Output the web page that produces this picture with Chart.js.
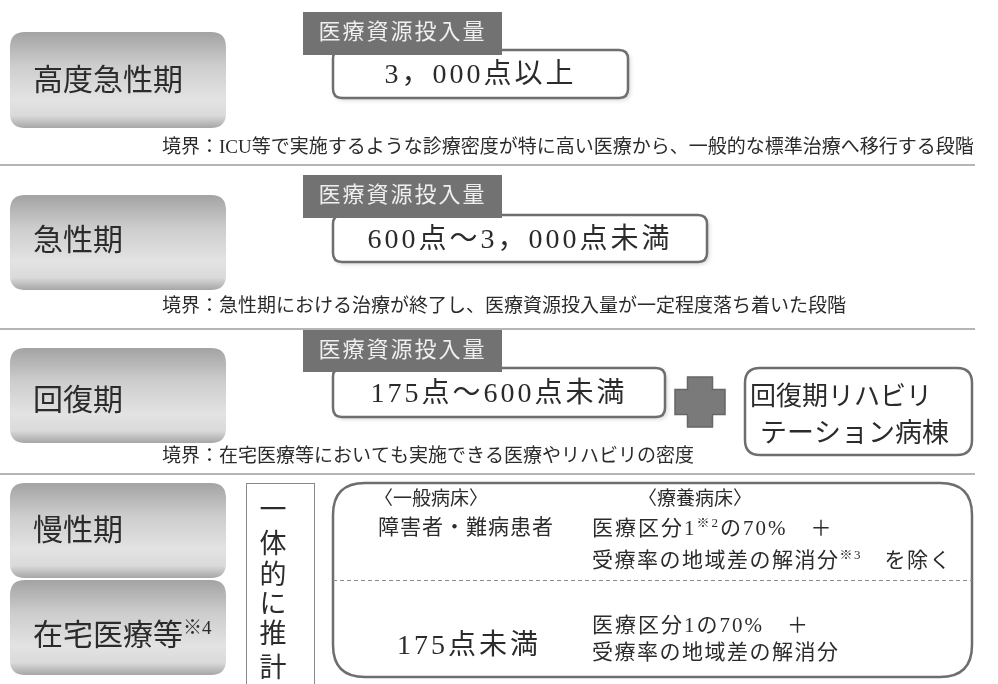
<!DOCTYPE html>
<html lang="ja">
<head>
<meta charset="utf-8">
<title>病床の機能区分</title>
<script src="https://cdn.jsdelivr.net/npm/chart.js@4.4.1/dist/chart.umd.min.js"></script>
<style>
  html, body { margin: 0; padding: 0; background: #fff; }
  #wrap { width: 998px; height: 684px; position: relative; }
</style>
</head>
<body>
<div id="wrap"><canvas id="diagram"></canvas></div>
<script>
// ---- data (text of the diagram) ----
const stages = ["高度急性期", "急性期", "回復期", "慢性期", "在宅医療等{※4}"];
const resourceLabel = "医療資源投入量";
const thresholds = ["3，000点以上", "600点～3，000点未満", "175点～600点未満"];
const boundaries = [
  "境界：ICU等で実施するような診療密度が特に高い医療から、一般的な標準治療へ移行する段階",
  "境界：急性期における治療が終了し、医療資源投入量が一定程度落ち着いた段階",
  "境界：在宅医療等においても実施できる医療やリハビリの密度"
];
const rehabWard = ["回復期リハビリ", "テーション病棟"];
const jointEstimate = ["一", "体", "的", "に", "推", "計"];
const generalBed = ["〈一般病床〉", "障害者・難病患者"];
const ryoyoBedHeader = "〈療養病床〉";
const ryoyoExcluded = ["医療区分1{※2}の70%　＋", "受療率の地域差の解消分{※3}　を除く"];
const chronicPoints = "175点未満";
const ryoyoIncluded = ["医療区分1の70%　＋", "受療率の地域差の解消分"];

// ---- layout, in the units of the hidden x/y scales ----
const layout = {
  stageX: [10, 226],
  stageY: [[32, 128], [195, 290], [348, 443], [483, 578], [580, 675]],
  stageTextY: [82, 242, 402, 532, 637],
  labelX: [303, 502],
  labelY: [[12, 55], [175, 218], [330, 372]],
  valueX: [[333, 628], [333, 707], [333, 665]],
  valueY: [[50, 98], [215, 262], [368, 417]],
  boundaryX: 162,
  boundaryY: [148, 307, 457],
  separatorY: [165, 329, 474],
  cross: { cx: 700, cy: 402, size: 50, arm: 25 },
  rehabBox: [745, 368, 972, 455],
  jointBox: [246, 483, 314, 700],
  chronicBox: [333, 483, 972, 677],
  dashY: 580
};

const JP = '"Liberation Serif", "Noto Sans CJK JP", serif';
const INK = "#2b2b2b";

function roundPath(ctx, x0, y0, x1, y1, r) {
  ctx.beginPath();
  ctx.moveTo(x0 + r, y0);
  ctx.lineTo(x1 - r, y0);
  ctx.quadraticCurveTo(x1, y0, x1, y0 + r);
  ctx.lineTo(x1, y1 - r);
  ctx.quadraticCurveTo(x1, y1, x1 - r, y1);
  ctx.lineTo(x0 + r, y1);
  ctx.quadraticCurveTo(x0, y1, x0, y1 - r);
  ctx.lineTo(x0, y0 + r);
  ctx.quadraticCurveTo(x0, y0, x0 + r, y0);
  ctx.closePath();
}

// text with {superscript} parts
function richParts(text) {
  return text.split(/(\{[^}]*\})/).filter(Boolean).map(p =>
    p.startsWith("{") ? { t: p.slice(1, -1), sup: true } : { t: p, sup: false });
}
function drawRich(ctx, text, x, y, size, align, spacing) {
  const parts = richParts(text);
  ctx.letterSpacing = spacing || "0px";
  let total = 0;
  parts.forEach(p => {
    ctx.font = `${p.sup ? Math.round(size * 0.62) : size}px ${JP}`;
    p.w = ctx.measureText(p.t).width;
    total += p.w;
  });
  let cx = align === "center" ? x - total / 2 : x;
  ctx.textAlign = "left";
  ctx.textBaseline = "middle";
  parts.forEach(p => {
    ctx.font = `${p.sup ? Math.round(size * 0.62) : size}px ${JP}`;
    ctx.fillText(p.t, cx, p.sup ? y - size * 0.28 : y);
    cx += p.w;
  });
  ctx.letterSpacing = "0px";
}

const diagramPlugin = {
  id: "diagram",
  afterDraw(chart) {
    const { ctx, scales: { x, y } } = chart;
    const px = v => x.getPixelForValue(v);
    const py = v => y.getPixelForValue(v);
    ctx.save();

    // separators
    ctx.strokeStyle = "#9c9c9c";
    ctx.lineWidth = 1.5;
    layout.separatorY.forEach(s => {
      ctx.beginPath();
      ctx.moveTo(px(0), py(s));
      ctx.lineTo(px(975), py(s));
      ctx.stroke();
    });

    // gray stage buttons
    stages.forEach((name, i) => {
      const [t, b] = layout.stageY[i];
      const g = ctx.createLinearGradient(0, py(t), 0, py(b));
      g.addColorStop(0, "#a3a3a3");
      g.addColorStop(0.35, "#cdcdcd");
      g.addColorStop(0.7, "#e3e3e3");
      g.addColorStop(0.87, "#dadada");
      g.addColorStop(1, "#a6a6a6");
      ctx.fillStyle = g;
      roundPath(ctx, px(layout.stageX[0]), py(t), px(layout.stageX[1]), py(b), 15);
      ctx.fill();
      ctx.fillStyle = INK;
      drawRich(ctx, name, px(33), py(layout.stageTextY[i]), 30, "left");
    });

    // resource amount boxes
    thresholds.forEach((label, i) => {
      const [x0, x1] = layout.valueX[i];
      const [t, b] = layout.valueY[i];
      ctx.save();
      ctx.shadowColor = "rgba(0,0,0,0.18)";
      ctx.shadowBlur = 4;
      ctx.shadowOffsetX = 2;
      ctx.shadowOffsetY = 2;
      roundPath(ctx, px(x0), py(t), px(x1), py(b), 9);
      ctx.fillStyle = "#fff";
      ctx.fill();
      ctx.restore();
      roundPath(ctx, px(x0), py(t), px(x1), py(b), 9);
      ctx.strokeStyle = "#6e6e6e";
      ctx.lineWidth = 2.5;
      ctx.stroke();
      ctx.fillStyle = INK;
      drawRich(ctx, label, px((x0 + x1) / 2), py((t + b) / 2 + 2), 28, "center", "3px");

      const [lt, lb] = layout.labelY[i];
      ctx.fillStyle = "#727272";
      ctx.fillRect(px(layout.labelX[0]), py(lt), px(layout.labelX[1]) - px(layout.labelX[0]), py(lb) - py(lt));
      ctx.fillStyle = "#efefef";
      drawRich(ctx, resourceLabel, px((layout.labelX[0] + layout.labelX[1]) / 2), py((lt + lb) / 2), 22, "center", "2px");
    });

    // boundary notes
    ctx.fillStyle = INK;
    boundaries.forEach((txt, i) => drawRich(ctx, txt, px(layout.boundaryX), py(layout.boundaryY[i]), 19, "left"));

    // plus sign
    const c = layout.cross;
    ctx.fillStyle = "#7a7a7a";
    ctx.strokeStyle = "#666";
    ctx.lineWidth = 1.5;
    ctx.beginPath();
    const h = c.size / 2, a = c.arm / 2;
    const pts = [[-a, -h], [a, -h], [a, -a], [h, -a], [h, a], [a, a], [a, h], [-a, h], [-a, a], [-h, a], [-h, -a], [-a, -a]];
    pts.forEach(([dx, dy], k) => {
      const X = px(c.cx + dx), Y = py(c.cy + dy);
      k ? ctx.lineTo(X, Y) : ctx.moveTo(X, Y);
    });
    ctx.closePath();
    ctx.fill();
    ctx.stroke();

    // rehab ward box
    const rb = layout.rehabBox;
    roundPath(ctx, px(rb[0]), py(rb[1]), px(rb[2]), py(rb[3]), 15);
    ctx.strokeStyle = "#6e6e6e";
    ctx.lineWidth = 2.5;
    ctx.stroke();
    ctx.fillStyle = INK;
    drawRich(ctx, rehabWard[0], px(750), py(398), 26, "left");
    drawRich(ctx, rehabWard[1], px(760), py(435), 27, "left");

    // joint estimate vertical box
    const jb = layout.jointBox;
    ctx.strokeStyle = "#8a8a8a";
    ctx.lineWidth = 1;
    ctx.strokeRect(px(jb[0]) + 0.5, py(jb[1]) + 0.5, px(jb[2]) - px(jb[0]), py(jb[3]) - py(jb[1]));
    const jy = [512, 546, 577, 606, 636, 670];
    jointEstimate.forEach((ch, k) => drawRich(ctx, ch, px(273), py(jy[k]), 27, "center"));

    // chronic / home care box
    const cb = layout.chronicBox;
    roundPath(ctx, px(cb[0]), py(cb[1]), px(cb[2]), py(cb[3]), 32);
    ctx.strokeStyle = "#6e6e6e";
    ctx.lineWidth = 2.5;
    ctx.stroke();
    ctx.save();
    ctx.setLineDash([4, 3]);
    ctx.strokeStyle = "#8a8a8a";
    ctx.lineWidth = 1;
    ctx.beginPath();
    ctx.moveTo(px(cb[0]), py(layout.dashY) + 0.5);
    ctx.lineTo(px(cb[2]), py(layout.dashY) + 0.5);
    ctx.stroke();
    ctx.restore();

    ctx.fillStyle = INK;
    drawRich(ctx, generalBed[0], px(374), py(500), 19, "left");
    drawRich(ctx, generalBed[1], px(378), py(528), 21, "left", "1px");
    drawRich(ctx, ryoyoBedHeader, px(638), py(500), 19, "left");
    drawRich(ctx, ryoyoExcluded[0], px(592), py(529), 21, "left", "2px");
    drawRich(ctx, ryoyoExcluded[1], px(592), py(561), 21, "left", "1.5px");
    drawRich(ctx, chronicPoints, px(397), py(647), 28, "left", "3px");
    drawRich(ctx, ryoyoIncluded[0], px(592), py(626), 21, "left", "2px");
    drawRich(ctx, ryoyoIncluded[1], px(592), py(653), 21, "left", "1.5px");

    ctx.restore();
  }
};

new Chart(document.getElementById("diagram"), {
  type: "scatter",
  data: { datasets: [{ data: [] }] },
  options: {
    responsive: true,
    maintainAspectRatio: false,
    animation: false,
    layout: { padding: 0 },
    scales: {
      x: { type: "linear", min: 0, max: 998, display: false },
      y: { type: "linear", min: 0, max: 684, reverse: true, display: false }
    },
    plugins: { legend: { display: false }, tooltip: { enabled: false } }
  },
  plugins: [diagramPlugin]
});
</script>
</body>
</html>
